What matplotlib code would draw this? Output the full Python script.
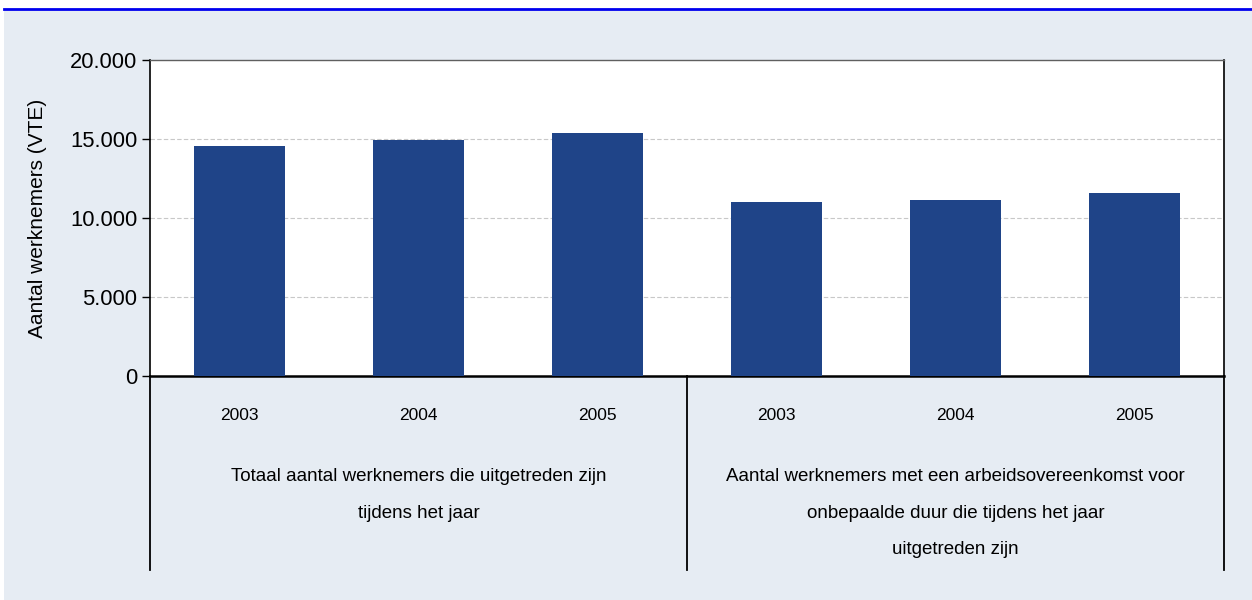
import matplotlib.pyplot as plt
import matplotlib.patches as patches
from matplotlib import font_manager

years = ['2003', '2004', '2005', '2003', '2004', '2005']
values = [14570, 14950, 15380, 11020, 11150, 11580]
groups = ['Totaal aantal werknemers die uitgetreden zijn\ntijdens het jaar',
          'Aantal werknemers met een arbeidsovereenkomst voor\nonbepaalde duur die tijdens het jaar\nuitgetreden zijn']
group_centers = [1, 4]
yticks = [0, 5000, 10000, 15000, 20000]
ytick_labels = ['0', '5.000', '10.000', '15.000', '20.000']

names = {f.name for f in font_manager.fontManager.ttflist}
narrow = 'Liberation Sans Narrow' if 'Liberation Sans Narrow' in names else 'Liberation Sans'
plt.rcParams['font.family'] = 'Liberation Sans'

W, H = 1252, 600
bg = '#E6ECF3'
fig = plt.figure(figsize=(W / 100, H / 100), dpi=100)
fig.patch.set_facecolor('white')
fig.patches.append(patches.Rectangle((4 / W, 0), 1 - 4 / W, (H - 10) / H,
                                     transform=fig.transFigure, facecolor=bg,
                                     edgecolor='none', zorder=-10))
fig.lines.append(plt.Line2D([4 / W, 1], [(H - 8.5) / H] * 2, transform=fig.transFigure,
                            color='#0000EE', lw=2, zorder=-5))

x0, x1, ytop, ybot = 150, 1224, 60, 376
ax = fig.add_axes([x0 / W, (H - ybot) / H, (x1 - x0) / W, (ybot - ytop) / H])
ax.set_facecolor('white')

xs = list(range(len(values)))
ax.bar(xs, values, width=0.51, color='#1F4488', zorder=3)
ax.set_xlim(-0.5, 5.5)
ax.set_ylim(0, 20000)

ax.set_yticks(yticks)
ax.set_yticklabels(ytick_labels, fontsize=15.8)
ax.tick_params(axis='y', direction='out', length=6, width=1, pad=3, colors='black')
ax.set_xticks([])
for y in yticks[1:-1]:
    ax.axhline(y, color='#C8C8C8', lw=0.8, ls=(0, (4, 2)), zorder=1)
ax.set_ylabel('Aantal werknemers (VTE)', fontsize=15, labelpad=17)

for s in ['left', 'right', 'bottom']:
    ax.spines[s].set_color('black')
    ax.spines[s].set_linewidth(1.2)
ax.spines['bottom'].set_linewidth(1.8)
ax.spines['top'].set_color('#606060')
ax.spines['top'].set_linewidth(1)

h = ybot - ytop
tr = ax.get_xaxis_transform()
for xv in [-0.5, 2.5, 5.5]:
    ax.plot([xv, xv], [0, -(570 - ybot) / h], transform=tr, color='black',
            lw=1.3, clip_on=False)
for xv, yr in zip(xs, years):
    ax.text(xv, -(415 - ybot) / h, yr, transform=tr, ha='center', va='center',
            fontsize=12.5, family=narrow)
for gc, g in zip(group_centers, groups):
    ax.text(gc, -(468 - ybot) / h, g, transform=tr, ha='center', va='top',
            fontsize=13.5, family=narrow, linespacing=2.5)

fig.savefig('out.png', dpi=100, facecolor=fig.get_facecolor())
